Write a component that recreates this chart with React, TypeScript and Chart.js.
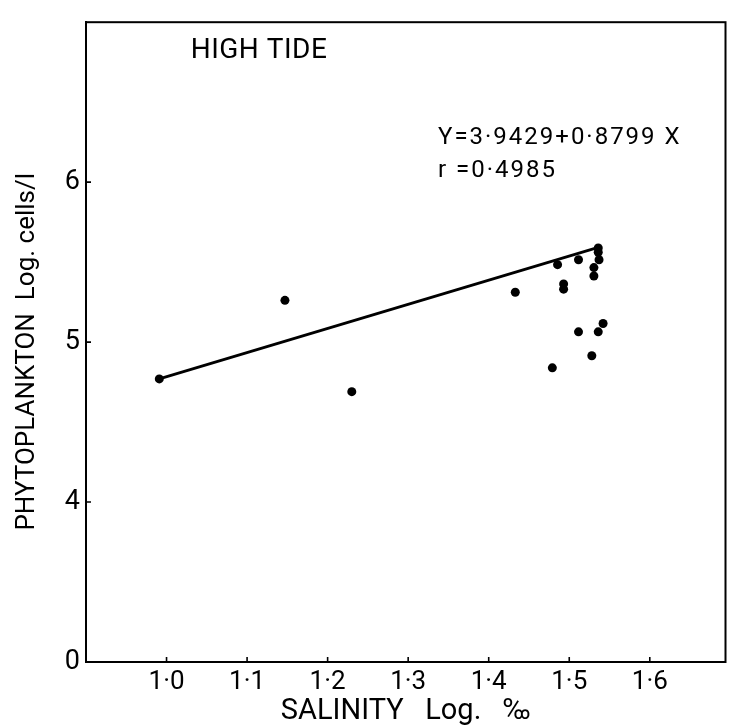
import React, { useEffect, useRef } from "react";
import { Chart, registerables } from "chart.js";

Chart.register(...registerables);

// Observed points (salinity log ‰, phytoplankton log cells/l)
const salinity = [0.991, 1.147, 1.23, 1.433, 1.4855, 1.493, 1.493, 1.5115, 1.5115, 1.479, 1.5306, 1.5306, 1.528, 1.536, 1.536, 1.537, 1.536, 1.542];
const phytoplankton = [4.77, 5.261, 4.69, 5.312, 5.484, 5.364, 5.331, 5.515, 5.064, 4.839, 5.466, 5.413, 4.915, 5.589, 5.562, 5.515, 5.064, 5.116];

// Drawn regression line end points
const lineX = [0.991, 1.536];
const lineY = [4.77, 5.592];

// Axis ticks
const xTicks = [1.0, 1.1, 1.2, 1.3, 1.4, 1.5, 1.6];
const yTicks = [3, 4, 5, 6];
const yTickLabels = ["0", "4", "5", "6"];

const titleText = "HIGH TIDE";
const equationText = "Y=3·9429+0·8799 X";
const rText = "r =0·4985";

const FONT = "Roboto, 'DejaVu Sans', sans-serif";

export default function App() {
  const ref = useRef<HTMLCanvasElement | null>(null);

  useEffect(() => {
    if (!ref.current) return;

    const framePlugin = {
      id: "frameTicks",
      afterDraw(chart: any) {
        const { ctx, chartArea, scales } = chart;
        const { left, right, top, bottom } = chartArea;
        ctx.save();
        ctx.strokeStyle = "#000";
        ctx.lineWidth = 2;
        ctx.strokeRect(left, top, right - left, bottom - top);
        ctx.lineWidth = 1.6;
        ctx.beginPath();
        for (const v of xTicks) {
          const px = scales.x.getPixelForValue(v);
          ctx.moveTo(px, bottom);
          ctx.lineTo(px, bottom - 5);
        }
        for (const v of yTicks.slice(1)) {
          const py = scales.y.getPixelForValue(v);
          ctx.moveTo(left, py);
          ctx.lineTo(left + 5, py);
        }
        ctx.stroke();
        ctx.restore();
      },
    };

    const textPlugin = {
      id: "annotations",
      afterDatasetsDraw(chart: any) {
        const { ctx, scales } = chart;
        ctx.save();
        ctx.fillStyle = "#000";
        ctx.textBaseline = "middle";
        ctx.textAlign = "left";
        try { (ctx as any).letterSpacing = "0.5px"; } catch (e) {}
        ctx.font = `28px ${FONT}`;
        ctx.fillText(titleText, scales.x.getPixelForValue(1.03), scales.y.getPixelForValue(6.82));
        try { (ctx as any).letterSpacing = "2px"; } catch (e) {}
        ctx.font = `24px ${FONT}`;
        ctx.fillText(equationText, scales.x.getPixelForValue(1.337), scales.y.getPixelForValue(6.275));
        ctx.fillText(rText, scales.x.getPixelForValue(1.337), scales.y.getPixelForValue(6.07));
        ctx.restore();
      },
    };

    const chart = new Chart(ref.current, {
      type: "scatter",
      data: {
        datasets: [
          {
            label: "Observations",
            data: salinity.map((x, i) => ({ x, y: phytoplankton[i] })),
            pointRadius: 4.5,
            pointBackgroundColor: "#000",
            pointBorderWidth: 0,
            showLine: false,
          },
          {
            label: "Regression",
            data: lineX.map((x, i) => ({ x, y: lineY[i] })),
            showLine: true,
            pointRadius: 0,
            borderColor: "#000",
            borderWidth: 2.8,
          },
        ],
      },
      options: {
        animation: false,
        responsive: false,
        devicePixelRatio: 1,
        layout: { padding: { left: 0, right: 3, top: 11, bottom: 0 } },
        plugins: { legend: { display: false }, tooltip: { enabled: false } },
        scales: {
          x: {
            type: "linear",
            min: 0.9,
            max: 1.694,
            afterBuildTicks: (s: any) => {
              s.ticks = xTicks.map((v) => ({ value: v }));
            },
            afterFit: (s: any) => {
              s.height = 65;
            },
            grid: { display: false, drawTicks: false },
            border: { display: true, color: "#000", width: 2 },
            ticks: {
              color: "#000",
              font: { family: FONT, size: 26 },
              padding: 5,
              maxRotation: 0,
              autoSkip: false,
              callback: (v: any) => Number(v).toFixed(1).replace(".", "·"),
            },
            title: {
              display: true,
              text: "SALINITY   Log.   ‰",
              color: "#000",
              font: { family: FONT, size: 29 },
              padding: { top: 0, bottom: -2 },
            },
          },
          y: {
            type: "linear",
            min: 3,
            max: 7,
            afterBuildTicks: (s: any) => {
              s.ticks = yTicks.map((v) => ({ value: v }));
            },
            afterFit: (s: any) => {
              s.width = 86;
            },
            grid: { display: false, drawTicks: false },
            border: { display: true, color: "#000", width: 2 },
            ticks: {
              color: "#000",
              font: { family: FONT, size: 27 },
              padding: 6,
              autoSkip: false,
              callback: (v: any) => yTickLabels[yTicks.indexOf(Number(v))] ?? "",
            },
            title: {
              display: true,
              text: "PHYTOPLANKTON  Log. cells/l   ",
              color: "#000",
              font: { family: FONT, size: 26 },
              padding: { top: 12, bottom: 0 },
            },
          },
        },
      },
      plugins: [framePlugin, textPlugin],
    } as any);

    return () => chart.destroy();
  }, []);

  return (
    <div style={{ position: "absolute", left: 0, top: 0, width: 730, height: 727, background: "#fff" }}>
      <canvas ref={ref} width={730} height={727} style={{ display: "block" }} />
    </div>
  );
}
